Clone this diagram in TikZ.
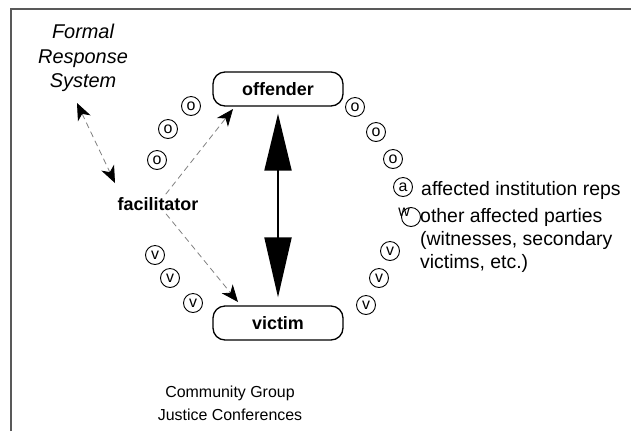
\documentclass[tikz,border=0pt]{standalone}
\usepackage{fontspec}
\setmainfont{Liberation Sans}
\usetikzlibrary{arrows.meta}
\begin{document}
\begin{tikzpicture}[x=1bp,y=-1bp,
  party/.style={draw,rounded corners=12bp,line width=1.3bp,minimum width=130bp,minimum height=34bp,inner sep=0pt,font=\fontsize{18}{20}\selectfont\bfseries},
  member/.style={draw,circle,line width=0.9bp,minimum size=19bp,inner sep=0pt,font=\fontsize{16}{16}\selectfont},
  dasharrow/.style={draw=gray,dash pattern=on 6bp off 4bp,line width=0.8bp,>={Stealth[length=17bp,width=14bp,inset=5bp,black]}},
  note/.style={font=\fontsize{19.5}{23}\selectfont,align=left,anchor=west,inner sep=0pt}
]
\useasboundingbox (0,0) rectangle (631,431);
% frame
\draw[draw=black!65,line width=1.3bp] (11,431) -- (11,9) -- (631,9);

% parties
\node[party] (off) at (278,89) {offender};
\node[party] (vic) at (278,323) {victim};
\node[font=\fontsize{18}{20}\selectfont\bfseries,inner sep=3bp] (fac) at (158,204) {facilitator};
\node[font=\fontsize{20}{24.5}\selectfont\itshape,align=center,inner sep=0pt] (frs) at (83,58) {Formal\\Response\\System};

% central double arrow
\draw[line width=2bp,{Triangle[length=57bp,width=27bp]}-{Triangle[length=60bp,width=27bp]},shorten <=7bp,shorten >=8bp] (off.south) -- (vic.north);

% dashed arrows
\coordinate (fa1) at (77,103);
\coordinate (fa2) at (115,183);
\coordinate (t1) at (233,109);
\coordinate (t2) at (238,302);
\draw[dasharrow,<->] (fa1) -- (fa2);
\draw[dasharrow,->] (fac) -- (t1);
\draw[dasharrow,->] (fac) -- (t2);

% left circles
\node[member] (lo1) at (191,106) {o};
\node[member] (lo2) at (168,129) {o};
\node[member] (lo3) at (157,160) {o};
\node[member] (lv1) at (155,255) {v};
\node[member] (lv2) at (170,278) {v};
\node[member] (lv3) at (193,303) {v};

% right circles
\node[member] (ro1) at (355,107) {o};
\node[member] (ro2) at (376,132) {o};
\node[member] (ro3) at (393,159) {o};
\node[member] (ra) at (403,187) {a};
\node[member] (rw) at (411,217) {};
\node[font=\fontsize{16}{16}\selectfont,inner sep=0pt] (wl) at (404,212) {w};
\node[member] (rv1) at (390,251) {v};
\node[member] (rv2) at (379,278) {v};
\node[member] (rv3) at (366,305) {v};

% notes
\node[note] (ainst) at (421,190) {affected institution reps};
\node[note,anchor=north west] (oth) at (420,208) {other affected parties\\(witnesses, secondary\\victims, etc.)};

% caption
\node[font=\fontsize{16}{23}\selectfont,align=center,inner sep=0pt] (cap) at (230,403) {Community Group\\Justice Conferences};
\end{tikzpicture}
\end{document}
